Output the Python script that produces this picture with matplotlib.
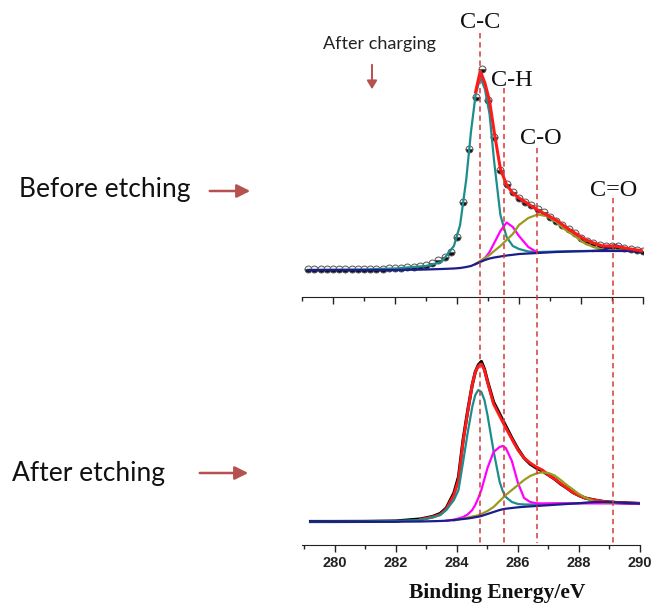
import numpy as np
import matplotlib
matplotlib.use("Agg")
import matplotlib.pyplot as plt
from matplotlib import transforms
from matplotlib.patches import FancyArrowPatch

nan = np.nan

# ---- top panel (before etching), intensity in a.u. ----
e_top = [279.2, 280.0, 281.0, 282.0, 283.0, 283.5, 283.9, 284.1, 284.3, 284.45, 284.6,
         284.75, 284.9, 285.05, 285.2, 285.4, 285.6, 285.8, 286.0, 286.3, 286.6, 286.9,
         287.2, 287.5, 287.8, 288.1, 288.4, 288.7, 289.0, 289.1, 289.3, 289.6, 290.0]
bg_top = [27, 27, 27, 27, 27.5, 28, 28.5, 29, 30, 31, 33, 35, 37, 38.5, 39.5, 40.5, 41.5,
          42.2, 43, 43.5, 44, 44.5, 45, 45.3, 45.6, 45.8, 46, 46, 46, 46, 46, 46, 45.5]
cc_top = [27, 27.2, 27.5, 28.5, 31, 35, 51, 72, 118, 165, 202, 220, 208, 183, 135, 82, 60,
          51, 48, 45.5, 45, 45.2, 45.5, 45.7, 45.9, 46, 46.2, 46.2, 46.2, 46.2, 46.2, 46.2, 45.8]
ch_top = [nan] * 10 + [33, 35.5, 39, 45, 54, 66, 74.5, 70, 61, 50, 44.5] + [nan] * 12
co_top = [nan] * 10 + [33, 36, 39, 42, 46, 51, 57, 63, 72, 79, 82.5, 81, 75, 67, 61, 54,
                       50, 47.5, 46.5, 46.3, 46.2, 46] + [nan]
cdo_top = [nan] * 26 + [46, 46.8, 50, 52, 50, 47.5, 45.8]
fit_top = [nan] * 10 + [205, 226, 214, 196, 165, 128, 112, 104, 99, 93, 87, 82, 77, 70, 64,
                        58, 54, 51, 51, 51, 49.5, 48, 46]

e_pts = np.round(np.arange(279.2, 290.01, 0.2), 1)
pts_top = [28, 28, 28, 28, 28, 28, 28, 28, 28, 28.5, 28.5, 28.5, 28.5, 29, 29, 29.5, 30, 30.5, 31,
           32, 34, 37, 40, 45, 60, 95, 148, 200, 228, 197, 160, 127, 113, 105, 99, 95, 92, 88,
           85, 80, 76, 72, 68, 64, 59, 56, 54, 52, 51, 51, 51, 49, 48, 47, 46]

# ---- bottom panel (after etching) ----
e_bot = [279.2, 280.0, 281.0, 282.0, 282.8, 283.2, 283.45, 283.65, 283.9, 284.05, 284.2,
         284.35, 284.5, 284.6, 284.7, 284.8, 284.9, 285.0, 285.2, 285.4, 285.5, 285.6, 285.8,
         286.0, 286.2, 286.4, 286.6, 286.8, 287.0, 287.2, 287.4, 287.6, 287.8, 288.0, 288.2,
         288.5, 288.8, 289.2, 289.6, 290.0]
bg_bot = [23.3, 23.3, 23.3, 23.3, 23.5, 23.8, 24.0, 24.3, 25.0, 25.5, 26.0, 26.5, 27.2, 27.8,
          28.3, 29.0, 30.0, 31.0, 33.0, 35.0, 35.7, 36.3, 37.0, 37.7, 38.2, 38.6, 39.0, 39.4,
          39.8, 40.2, 40.6, 41.0, 41.4, 41.8, 42.3, 43.0, 43.0, 42.6, 42.0, 41.5]
cc_bot = [23.3, 23.4, 23.6, 24.0, 25.0, 27.5, 30.0, 35.0, 45.0, 55.0, 83, 112, 138, 150, 155,
          153, 145, 130, 94, 63, 54, 48, 43, 41, 40.5, 40.5, 40.8, 41.0, 41.2, 41.4, 41.5,
          41.6, 41.7, 41.8, 42.0, 42.3, 42.3, 42.2, 41.8, 41.5]
ch_bot = [nan] * 7 + [24.3, 25.3, 26.5, 28.0, 30.5, 35.0, 40.0, 47.0, 55.0, 66.0, 77.0, 93.0,
                      98.0, 99.0, 97.0, 84.0, 62.0, 47.0, 43.0, 41.8, 41.5] + [41.6] * 12
co_bot = [nan] * 8 + [24.5, 25.5, 26.5, 27.5, 28.5, 29.0, 29.8, 31.0, 32.5, 34.0, 38.0, 44.0,
                      47.0, 50.0, 55.0, 60.0, 65.0, 69.0, 71.5, 72.7, 72.0, 69.5, 65.0, 60.0,
                      55.5, 51.0, 47.5, 43.5, 42.5, 42.0] + [nan] * 2
fit_bot = [nan] * 4 + [25.5, 28, 30.5, 36, 50, 65, 103, 133, 160, 173, 179, 181, 175, 163, 141,
                       129, 123, 117, 106, 95, 87, 82, 78, 75, 70, 66, 61.5, 57, 52.5, 49.5,
                       47, 45, 43.5, 42.5, 42, 41.5]
raw_bot = [23.5, 23.5, 23.6, 24, 26, 28.5, 31.5, 37, 52, 68, 105, 134, 160, 173, 180, 183.5,
           176, 164, 143, 131, 125, 119, 107, 96, 87, 81, 77, 74, 70, 66, 61, 57, 52.5, 49.5,
           47, 45, 43.5, 42.5, 42, 41.5]

peak_names = ["C-C", "C-H", "C-O", "C=O"]
peak_pos = [284.75, 285.55, 286.62, 289.1]

c_cc, c_ch, c_co, c_bg = "#1e8c8c", "#ff00ff", "#9a9a20", "#1c1c8c"
c_fit, c_dash, c_arrow = "#ff1a1a", "#d43a3a", "#b5514e"

W, H = 654, 610
fig = plt.figure(figsize=(W / 100, H / 100), dpi=100)
ax_top = fig.add_axes([302 / W, (H - 297) / H, (643 - 302) / W, 257 / H])
ax_bot = fig.add_axes([302 / W, (H - 545) / H, (640 - 302) / W, 205 / H])
ax_top.set_xlim(279.1, 290.0)
ax_bot.set_xlim(278.92, 290.0)

for ax in (ax_top, ax_bot):
    for s in ("left", "right", "top"):
        ax.spines[s].set_visible(False)
    ax.spines["bottom"].set_color("#222222")
    ax.set_yticks([])
    ax.set_xticks(np.arange(280, 291, 2))
    ax.set_xticks(np.arange(279, 291, 1), minor=True)
    ax.tick_params(axis="x", which="major", direction="out", length=5, width=1, colors="#222222")
    ax.tick_params(axis="x", which="minor", direction="out", length=3, width=1, colors="#222222")
    ax.patch.set_alpha(0)

ax_top.set_ylim(0, 257)
ax_top.tick_params(axis="x", labelbottom=False)
ax_top.plot(e_pts, pts_top, "o", ms=5, fillstyle="bottom", mfc="#111111", mfcalt="#f4f4f4",
            mec="#555555", mew=0.7, zorder=2)
ax_top.plot(e_top, cc_top, color=c_cc, lw=1.6, zorder=3)
ax_top.plot(e_top, ch_top, color=c_ch, lw=1.6, zorder=3)
ax_top.plot(e_top, co_top, color=c_co, lw=1.6, zorder=3)
ax_top.plot(e_top, bg_top, color=c_bg, lw=1.6, zorder=4)
ax_top.plot(e_top, cdo_top, color=c_bg, lw=1.6, zorder=4)
ax_top.plot(e_top, fit_top, color=c_fit, lw=2.2, zorder=5)

ax_bot.set_ylim(0, 205)
ax_bot.plot(e_bot, raw_bot, color="black", lw=2.3, zorder=2)
ax_bot.plot(e_bot, fit_bot, color=c_fit, lw=2.1, zorder=3)
ax_bot.plot(e_bot, cc_bot, color=c_cc, lw=1.6, zorder=4)
ax_bot.plot(e_bot, ch_bot, color=c_ch, lw=1.6, zorder=4)
ax_bot.plot(e_bot, co_bot, color=c_co, lw=1.6, zorder=4)
ax_bot.plot(e_bot, bg_bot, color=c_bg, lw=1.6, zorder=5)
for lab in ax_bot.get_xticklabels():
    lab.set_fontweight("bold")
    lab.set_fontfamily("Liberation Sans")
    lab.set_fontsize(10.5)
ax_bot.tick_params(axis="x", pad=3)

# overlay in pixel coordinates for annotations
ov = fig.add_axes([0, 0, 1, 1])
ov.set_xlim(0, W)
ov.set_ylim(H, 0)
ov.axis("off")
ov.patch.set_alpha(0)
mix = transforms.blended_transform_factory(ax_bot.transData, ov.transData)

line_top = [33, 88, 148, 198]
label_y = [23, 80, 138, 190]
label_dx = [0, 8, 4, 1]
for name, pos, yt, ly, dx in zip(peak_names, peak_pos, line_top, label_y, label_dx):
    ov.plot([pos, pos], [yt, 543], transform=mix, color=c_dash, lw=1.1,
            ls=(0, (3.5, 2.5)), zorder=6)
    t = transforms.offset_copy(mix, fig=fig, x=dx, y=0, units="dots")
    ov.text(pos, ly, name, transform=t, ha="center", va="center",
            fontfamily="Liberation Serif", fontsize=17.5, color="#111111")

ov.text(323, 44, "After charging", ha="left", va="center", fontfamily="Lato",
        fontsize=13, color="#222222")
ov.add_patch(FancyArrowPatch((372, 62), (372, 92), arrowstyle="-|>,head_length=5,head_width=3",
                             color=c_arrow, lw=1.4, mutation_scale=1))

ov.text(19, 190, "Before etching", ha="left", va="center", fontfamily="Lato",
        fontsize=19, color="#111111")
ov.add_patch(FancyArrowPatch((207, 191), (253, 191), arrowstyle="-|>,head_length=8,head_width=4",
                             color=c_arrow, lw=1.8, mutation_scale=1))
ov.text(12, 473, "After etching", ha="left", va="center", fontfamily="Lato",
        fontsize=19, color="#111111")
ov.add_patch(FancyArrowPatch((197, 473), (251, 473), arrowstyle="-|>,head_length=8,head_width=4",
                             color=c_arrow, lw=1.8, mutation_scale=1))

ov.text(497, 593, "Binding Energy/eV", ha="center", va="center",
        fontfamily="Liberation Serif", fontweight="bold", fontsize=15.5, color="#111111")

fig.savefig("out.png", dpi=100)
